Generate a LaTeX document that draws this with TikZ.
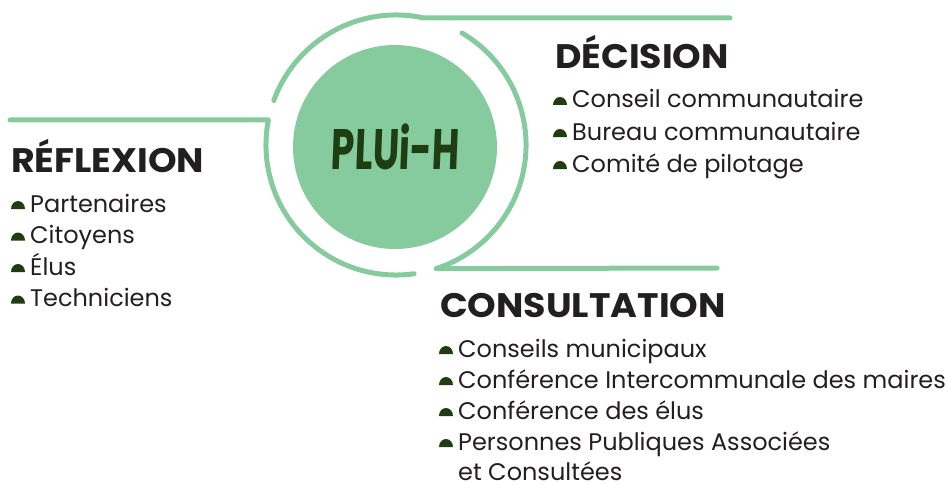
\documentclass[tikz,border=0pt]{standalone}
\usepackage{fontspec}
\setmainfont{Poppins}
\newfontfamily\plufont{Poppins}[UprightFont=* Bold, FakeStretch=0.66, FakeSlant=0.04]
\newfontfamily\headfont{Poppins}[UprightFont=* Bold, FakeStretch=1.07]
\definecolor{lg}{HTML}{86CB9D}
\definecolor{dkg}{HTML}{1F3D12}
\definecolor{txt}{HTML}{231F20}
\begin{document}
\begin{tikzpicture}[x=1pt,y=-1pt,
  ring/.style={draw=lg, line width=5pt, line cap=round, line join=round},
  head/.style={anchor=base west, inner sep=0pt, font=\fontsize{34}{34}\headfont, text=txt},
  item/.style={anchor=base west, inner sep=0pt, font=\fontsize{24}{24}\selectfont, text=txt}]
\useasboundingbox (0,0) rectangle (947,484);
\newcommand\mybullet[1]{\fill[dkg] ([xshift=-19pt,yshift=3pt]#1.base west) arc[start angle=180,end angle=0,x radius=7pt,y radius=8pt] -- cycle;}
% central disc
\node[circle, fill=lg, minimum size=204pt, inner sep=0pt, text=dkg, font=\fontsize{57}{57}\plufont] (core) at (395,147) {PLUi-H};
% ring pieces
\draw[ring] (273.8,100.5) arc[start angle=160, end angle=77.7, radius=130pt] -- (730,18);
\draw[ring] (462,33) arc[start angle=59.5, end angle=-72, radius=130pt] -- (717,268);
\draw[ring] (10,120) -- (268.4,120) arc[start angle=168.9, end angle=278, radius=130pt];
% DECISION
\node[head] (dec) at (555,69) {DÉCISION};
\node[item] (d1) at (572,108) {Conseil communautaire};
\node[item] (d2) at (572,140) {Bureau communautaire};
\node[item] (d3) at (572,172) {Comité de pilotage};
% REFLEXION
\node[head] (ref) at (11,172) {RÉFLEXION};
\node[item] (r1) at (30,212) {Partenaires};
\node[item] (r2) at (30,243.5) {Citoyens};
\node[item] (r3) at (30,275) {Élus};
\node[item] (r4) at (30,306.5) {Techniciens};
% CONSULTATION
\node[head] (con) at (440,317) {CONSULTATION};
\node[item] (c1) at (458,357) {Conseils municipaux};
\node[item] (c2) at (458,388) {Conférence Intercommunale des maires};
\node[item] (c3) at (458,419) {Conférence des élus};
\node[item] (c4) at (458,450) {Personnes Publiques Associées};
\node[item] (c5) at (458,480) {et Consultées};
\foreach \n in {d1,d2,d3,r1,r2,r3,r4,c1,c2,c3,c4}{\mybullet{\n}}
\end{tikzpicture}
\end{document}
